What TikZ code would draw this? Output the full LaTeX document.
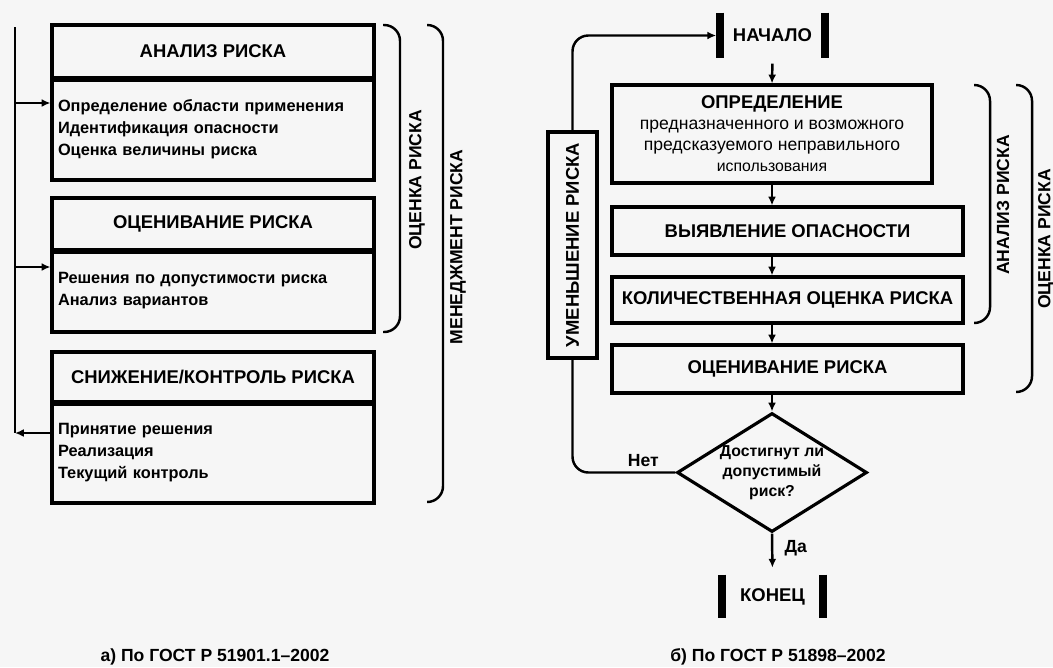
\documentclass[tikz,border=0pt]{standalone}
\usepackage{fontspec}
\setmainfont{Liberation Sans}
\usetikzlibrary{arrows.meta,positioning,shapes.geometric}
\definecolor{paper}{RGB}{246,246,246}

\begin{document}
\begin{tikzpicture}[x=0.02cm,y=-0.02cm,font=\fontsize{10}{12.5}\selectfont\bfseries]
  %----- styles
  \tikzset{
    head/.style   ={draw,line width=1.8pt,minimum width=6.44cm,align=center,font=\fontsize{10.5}{12.5}\selectfont\bfseries},
    body/.style   ={draw,line width=1.8pt,minimum width=6.44cm,text width=6.2cm,inner xsep=0.12cm,align=left,font=\fontsize{9.3}{12.5}\selectfont\bfseries},
    divider/.style={line width=3pt},
    stepbox/.style={draw,line width=1.8pt,minimum width=7.02cm,align=center,font=\fontsize{10.5}{12}\selectfont\bfseries},
    term/.style   ={minimum width=2.1cm,minimum height=0.9cm,font=\fontsize{10.5}{12}\selectfont\bfseries},
    bar/.style    ={line width=4.5pt},
    decision/.style={diamond,draw,line width=1.8pt,aspect=1.6,inner sep=-3pt,minimum width=3.8cm,minimum height=2.38cm,align=center,font=\fontsize{9}{11.5}\selectfont\bfseries},
    arrow/.style  ={-{Latex[length=5pt,width=4.5pt]},line width=1.4pt},
    line/.style   ={line width=1.4pt},
    brace/.style  ={line width=1.4pt,rounded corners=9pt},
    side/.style   ={rotate=90,font=\fontsize{10}{12}\selectfont\bfseries}
  }

  %----- page
  \fill[paper] (0,0) rectangle (1053,667);
  \useasboundingbox (0,0) rectangle (1053,667);

  %----- a) left scheme
  \node[head,minimum height=1.06cm] (hA) at (213,51.5) {АНАЛИЗ РИСКА};
  \node[body,minimum height=2.04cm] (bA) at (213,129) {Определение области применения\\Идентификация опасности\\Оценка величины риска};
  \node[head,minimum height=1.04cm] (hB) at (213,224) {ОЦЕНИВАНИЕ РИСКА};
  \node[body,minimum height=1.64cm] (bB) at (213,291) {Решения по допустимости риска\\Анализ вариантов};
  \node[head,minimum height=1.0cm] (hC) at (213,377) {СНИЖЕНИЕ/КОНТРОЛЬ РИСКА};
  \node[body,minimum height=2.02cm] (bC) at (213,452.5) {Принятие решения\\Реализация\\Текущий контроль};
  \draw[divider] (hA.south west) -- (hA.south east);
  \draw[divider] (hB.south west) -- (hB.south east);
  \draw[divider] (hC.south west) -- (hC.south east);

  % feedback spine
  \coordinate (spTop) at (15,27);
  \coordinate (inA) at (15,103);
  \coordinate (inB) at (15,267);
  \coordinate (outC) at (15,433);
  \draw[line width=1.7pt] (spTop) -- (outC);
  \draw[arrow] (inA) -- (inA -| bA.west);
  \draw[arrow] (inB) -- (inB -| bB.west);
  \draw[arrow] (outC -| bC.west) -- (outC);

  % braces
  \draw[brace] (383,25) -- (400,25) -- (400,332) -- (383,332);
  \draw[brace] (427,25) -- (443,25) -- (443,502) -- (427,502);
  \node[side] (lblOcA) at (417,180) {ОЦЕНКА РИСКА};
  \node[side] (lblMgmt) at (458,247) {МЕНЕДЖМЕНТ РИСКА};

  \node (capA) at (215,657) {а) По ГОСТ Р 51901.1–2002};

  %----- b) right scheme
  \node[term] (start) at (772.5,35.5) {НАЧАЛО};
  \draw[bar] (start.north west) -- (start.south west);
  \draw[bar] (start.north east) -- (start.south east);

  \node[stepbox,minimum width=6.4cm,minimum height=1.96cm] (def) at (772,134)
    {ОПРЕДЕЛЕНИЕ\\{\fontsize{10}{12}\selectfont\mdseries предназначенного и возможного}\\{\fontsize{10}{12}\selectfont\mdseries предсказуемого неправильного}\\{\fontsize{9}{11}\selectfont\mdseries использования}};
  \node[stepbox,minimum height=0.96cm] (haz) at (787.5,231) {ВЫЯВЛЕНИЕ ОПАСНОСТИ};
  \node[stepbox,minimum height=0.92cm] (quant) at (787.5,300) {КОЛИЧЕСТВЕННАЯ ОЦЕНКА РИСКА};
  \node[stepbox,minimum height=0.96cm] (eval) at (787.5,369) {ОЦЕНИВАНИЕ РИСКА};
  \node[decision] (dec) at (772,472.5) {Достигнут ли\\допустимый\\риск?};
  \node[term,minimum width=2.02cm,minimum height=0.86cm] (end) at (772.5,596.5) {КОНЕЦ};
  \draw[bar] (end.north west) -- (end.south west);
  \draw[bar] (end.north east) -- (end.south east);

  \node[draw,line width=1.8pt,minimum width=0.98cm,minimum height=4.52cm,font=\fontsize{10.5}{12}\selectfont\bfseries] (reduce) at (572.5,245) {\rotatebox{90}{УМЕНЬШЕНИЕ РИСКА}};

  % flow
  \draw[arrow,shorten <=3pt] (start.south) -- (def.north);
  \draw[arrow] (def.south) -- (def.south |- haz.north);
  \draw[arrow] (def.south |- haz.south) -- (def.south |- quant.north);
  \draw[arrow] (def.south |- quant.south) -- (def.south |- eval.north);
  \draw[arrow] (def.south |- eval.south) -- (dec.north);
  \draw[arrow,shorten >=4pt] (dec.south) -- node[right=3pt,pos=0.35] (yes) {Да} (end.north);

  % loop back
  \draw[line,rounded corners=9pt] (dec.west) -- (reduce.south |- dec.west) -- (reduce.south);
  \draw[arrow,rounded corners=9pt,shorten >=2pt] (reduce.north) |- (start.west);
  \node[above left=0pt and 6pt of dec.west] (no) {Нет};

  % braces
  \draw[brace] (975,85) -- (990,85) -- (990,323) -- (975,323);
  \draw[brace] (1017,85) -- (1032,85) -- (1032,392) -- (1017,392);
  \node[side] (lblAn) at (1003,205) {АНАЛИЗ РИСКА};
  \node[side] (lblOcB) at (1046,239) {ОЦЕНКА РИСКА};

  \node (capB) at (778,657) {б) По ГОСТ Р 51898–2002};
\end{tikzpicture}
\end{document}
